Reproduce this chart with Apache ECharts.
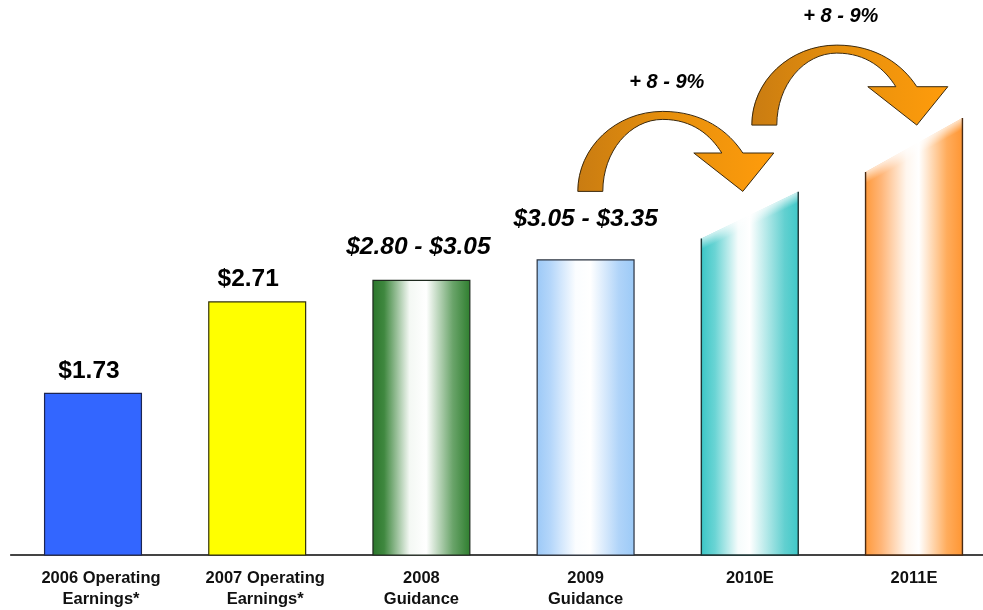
<!DOCTYPE html>
<html>
<head>
<meta charset="utf-8">
<script src="https://cdn.jsdelivr.net/npm/echarts@6/dist/echarts.min.js"></script>
<style>
  html, body { margin: 0; padding: 0; background: #ffffff; }
  #chart { width: 983px; height: 610px; }
</style>
</head>
<body>
<div id="chart"></div>
<script>
// Earnings per share by year
const categories = ['2006 Operating\nEarnings*', '2007 Operating\nEarnings*', '2008\nGuidance', '2009\nGuidance', '2010E', '2011E'];
// bar heights at the left and right edge of each bar (the outlook years rise across the bar)
const barLeft = [1.73, 2.71, 2.94, 3.16, 3.39, 4.10];
const barRight = [1.73, 2.71, 2.94, 3.16, 3.89, 4.68];
// value labels and the value each label sits above
const valueLabels = ['$1.73', '$2.71', '$2.80 - $3.05', '$3.05 - $3.35', '', ''];
const valueLabelAt = [1.73, 2.71, 3.05, 3.35, null, null];
// year-over-year growth arrows: starting category, crest value, crest position between categories
const growthLabels = ['+ 8 - 9%', '+ 8 - 9%'];
const growthFrom = [3, 4];
const growthCrest = [4.75, 5.46];
const growthAt = [0.47, 0.53];

const FONT = '"Liberation Sans", Arial, Helvetica, sans-serif';

function hGrad(stops) {
  return new echarts.graphic.LinearGradient(0, 0, 1, 0,
    stops.map(s => ({ offset: s[0], color: s[1] })));
}

const barStyles = [
  { fill: '#3366ff', stroke: '#1d2552', italic: false, slanted: false, shift: -4 },
  { fill: '#ffff00', stroke: '#33330a', italic: false, slanted: false, shift: -9 },
  { fill: hGrad([[0, '#2b762b'], [0.12, '#3f883f'], [0.38, '#f4f8f4'], [0.55, '#ffffff'], [0.82, '#6aa46a'], [1, '#2e7e2e']]),
    stroke: '#1f2a1f', italic: true, slanted: false, shift: -3 },
  { fill: hGrad([[0, '#9cc9f7'], [0.14, '#b4d6fa'], [0.4, '#fbfdff'], [0.55, '#ffffff'], [0.84, '#b0d4f9'], [1, '#9ccaf7']]),
    stroke: '#2a3340', italic: true, slanted: false, shift: 0 },
  { fill: hGrad([[0, '#3cc7c7'], [0.14, '#6ad4d4'], [0.38, '#f6fcfc'], [0.5, '#ffffff'], [0.86, '#62d0d0'], [1, '#40c8c8']]),
    stroke: '#1c3434', italic: false, slanted: true, shift: 0 },
  { fill: hGrad([[0, '#ff9a3c'], [0.16, '#ffb577'], [0.42, '#fff6ee'], [0.55, '#ffffff'], [0.84, '#ffac5c'], [1, '#ff9633']]),
    stroke: '#4a2a12', italic: false, slanted: true, shift: 0 }
];

function renderBar(params, api) {
  const i = api.value(0);
  const base = api.coord([i, 0]);
  const yl = api.coord([i, api.value(1)])[1];
  const yr = api.coord([i, api.value(2)])[1];
  const w = api.size([1, 0])[0] * 0.59;
  const xl = base[0] - w / 2, xr = base[0] + w / 2, yb = base[1];
  const st = barStyles[i];
  const children = [];
  const pts = [[xl, yb], [xl, yl], [xr, yr], [xr, yb]];
  if (!st.slanted) {
    children.push({ type: 'polygon', shape: { points: pts },
      style: { fill: st.fill, stroke: st.stroke, lineWidth: 1.2 } });
  } else {
    children.push({ type: 'polygon', shape: { points: pts }, style: { fill: st.fill } });
    // soft edge along the rising top
    const dx = xr - xl, dy = yr - yl, len = Math.hypot(dx, dy);
    const nx = -dy / len, ny = dx / len;
    const mx = (xl + xr) / 2, my = (yl + yr) / 2;
    children.push({ type: 'polygon',
      shape: { points: [[xl, yl], [xr, yr], [xr, yr + 30], [xl, yl + 30]] },
      style: { fill: { type: 'linear', global: true, x: mx, y: my, x2: mx + nx * 10, y2: my + ny * 10,
        colorStops: [{ offset: 0, color: 'rgba(255,255,255,0.7)' }, { offset: 1, color: 'rgba(255,255,255,0)' }] } } });
    children.push({ type: 'polyline', shape: { points: [[xl, yl], [xl, yb], [xr, yb], [xr, yr]] },
      style: { fill: null, stroke: st.stroke, lineWidth: 1.4 } });
  }
  const text = valueLabels[i];
  if (text) {
    const ay = api.coord([i, valueLabelAt[i]])[1];
    children.push({ type: 'text', x: base[0] + st.shift, y: ay - 10,
      style: { text: text, fontFamily: FONT, fontSize: 24.5, fontWeight: 'bold',
        fontStyle: st.italic ? 'italic' : 'normal', fill: '#000000',
        align: 'center', verticalAlign: 'bottom' } });
  }
  return { type: 'group', children: children };
}

function renderArrow(params, api) {
  const from = api.value(0);
  const a = api.coord([from, 0]), b = api.coord([from + 1, 0]);
  const cx = a[0] + api.value(2) * (b[0] - a[0]);
  const cy = api.coord([from, api.value(1)])[1];
  const s = (b[0] - a[0]) / 164.2;
  const P = (x, y) => (cx + x * s).toFixed(1) + ' ' + (cy + y * s).toFixed(1);
  const d = 'M' + P(-85, 80) +
    ' C' + P(-85, 36) + ' ' + P(-47, 0) + ' ' + P(0, 0) +
    ' C' + P(40, 0) + ' ' + P(66, 20) + ' ' + P(80, 41.6) +
    ' L' + P(111, 41.6) + ' L' + P(80, 80) + ' L' + P(31, 41.6) + ' L' + P(59, 41.6) +
    ' C' + P(48, 24) + ' ' + P(30, 8) + ' ' + P(0, 8) +
    ' C' + P(-33, 8) + ' ' + P(-60, 40) + ' ' + P(-60, 80) + ' Z';
  return { type: 'group', children: [
    { type: 'path', shape: { pathData: d },
      style: { fill: hGrad([[0, '#c97c12'], [0.45, '#e68f0c'], [1, '#ff9c0c']]),
        stroke: '#3b2a10', lineWidth: 1 } },
    { type: 'text', x: cx + 4, y: cy - 19,
      style: { text: growthLabels[params.dataIndex], fontFamily: FONT, fontSize: 20,
        fontWeight: 'bold', fontStyle: 'italic', fill: '#000000',
        align: 'center', verticalAlign: 'bottom' } }
  ] };
}

const chart = echarts.init(document.getElementById('chart'), null, { renderer: 'canvas' });
chart.setOption({
  animation: false,
  backgroundColor: '#ffffff',
  grid: { left: 10.9, width: 985.2, top: 4, bottom: 55, outerBoundsMode: 'none', containLabel: false },
  xAxis: {
    type: 'category',
    data: categories.map((c, i) => i < 2 ? { value: c, textStyle: { padding: [0, 0, 0, 16] } } : c),
    axisLine: { lineStyle: { color: '#444444', width: 2 } },
    axisTick: { show: false },
    axisLabel: { color: '#111111', fontFamily: FONT, fontSize: 16.5, fontWeight: 'bold',
      lineHeight: 21, margin: 13, interval: 0 }
  },
  yAxis: { type: 'value', min: 0, max: 5.9, show: false, splitLine: { show: false } },
  series: [
    { type: 'custom', renderItem: renderBar, encode: { x: 0, y: [1, 2] },
      data: categories.map((c, i) => [i, barLeft[i], barRight[i]]), z: 2 },
    { type: 'custom', renderItem: renderArrow, encode: { x: 0, y: 1 },
      data: growthFrom.map((f, k) => [f, growthCrest[k], growthAt[k]]), z: 3 }
  ]
});
</script>
</body>
</html>
